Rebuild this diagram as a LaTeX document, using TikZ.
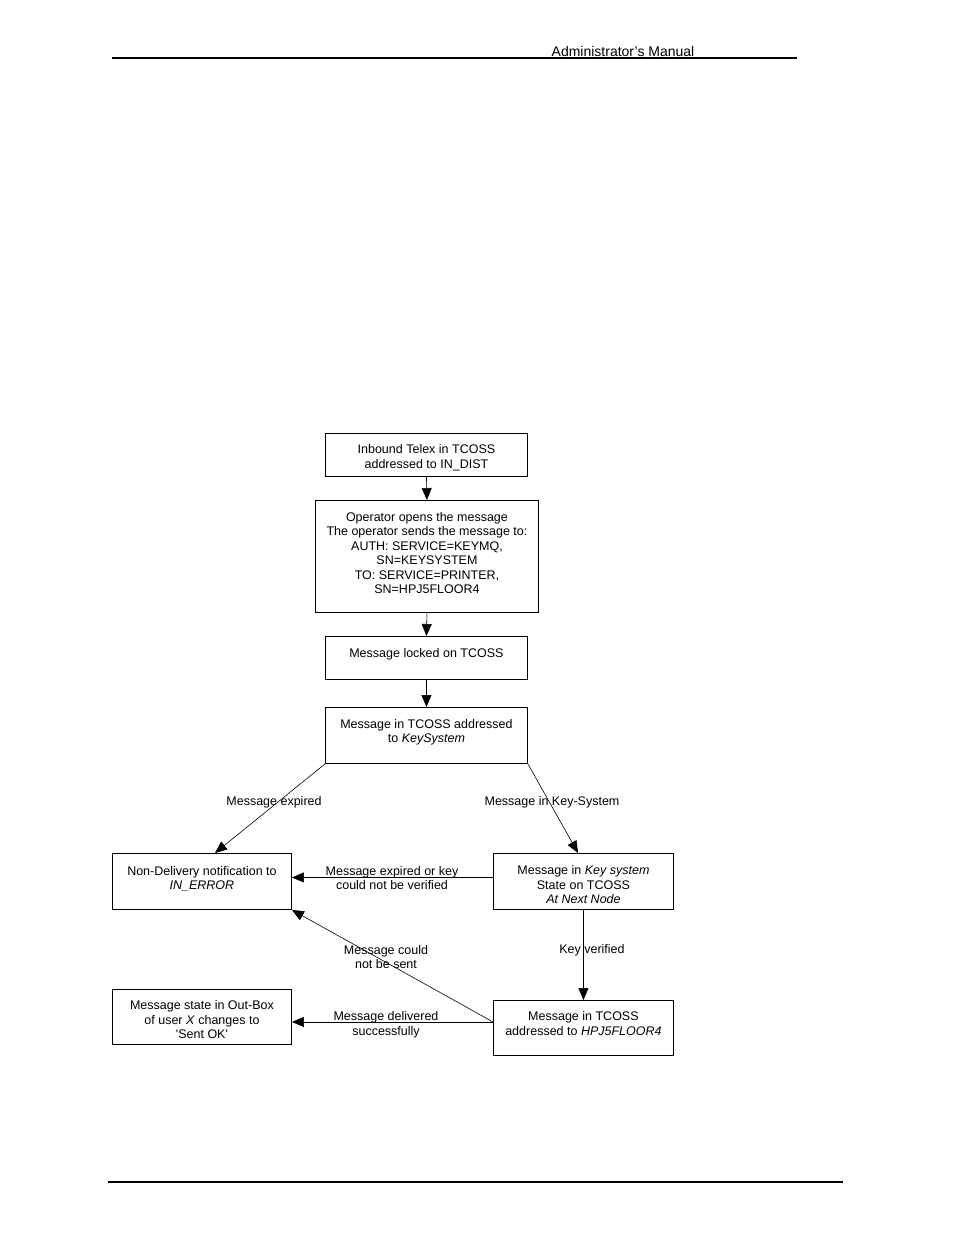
\documentclass[tikz,border=0pt]{standalone}
\usepackage{fontspec}
\setmainfont{Liberation Sans}[Ligatures=TeXOff]
\usetikzlibrary{arrows.meta}
\newcommand{\topgap}[1]{\rule{0pt}{#1}}
\begin{document}
\begin{tikzpicture}[x=1pt,y=-1pt,
  box/.style={draw, line width=0.9pt, inner sep=0pt, align=center,
    font=\fontsize{12.5}{14.5}\selectfont, anchor=north west},
  lab/.style={font=\fontsize{12.5}{14.5}\selectfont, align=center, inner sep=0pt},
  arr/.style={-{Triangle[length=12pt,width=10pt]}, line width=0.6pt},
  rule/.style={line width=1.2pt}]
\useasboundingbox (0,0) rectangle (954,1235);
% header / footer
\node[font=\fontsize{14}{16}\selectfont, inner sep=0pt] (hdr) at (623,51) {Administrator’s Manual};
\coordinate (hl) at (112,58); \coordinate (hr) at (797,58);
\draw[rule] (hl) -- (hr);
\coordinate (fl) at (108,1182); \coordinate (fr) at (843,1182);
\draw[rule] (fl) -- (fr);
% boxes
\node[box, minimum width=202pt, minimum height=43pt] (b1) at (325,433)
  {\topgap{15pt}Inbound Telex in TCOSS\\addressed to IN\_DIST};
\node[box, minimum width=223pt, minimum height=112pt, text depth=7pt] (b2) at (315,500)
  {Operator opens the message\\The operator sends the message to:\\AUTH: SERVICE=KEYMQ,\\SN=KEYSYSTEM\\TO: SERVICE=PRINTER,\\SN=HPJ5FLOOR4};
\node[box, minimum width=202pt, minimum height=43pt, text depth=10pt] (b3) at (325,636)
  {Message locked on TCOSS};
\node[box, minimum width=202pt, minimum height=56pt, text depth=9pt] (b4) at (325,707)
  {Message in TCOSS addressed\\to \textit{KeySystem}};
\node[box, minimum width=179pt, minimum height=56pt, text depth=7pt] (b5) at (112,853)
  {Non-Delivery notification to\\\textit{IN\_ERROR}};
\node[box, minimum width=180pt, minimum height=56pt] (b6) at (493,853)
  {\topgap{16pt}Message in \textit{Key system}\\State on TCOSS\\\textit{At Next Node}};
\node[box, minimum width=179pt, minimum height=55pt] (b7) at (112,989)
  {\topgap{15pt}Message state in Out-Box\\of user \textit{X} changes to\\'Sent OK'};
\node[box, minimum width=180pt, minimum height=55pt, text depth=9pt] (b8) at (493,1000)
  {Message in TCOSS\\addressed to \textit{HPJ5FLOOR4}};
% connectors
\draw[arr] (b1.south) -- (b2.north);
\draw[arr] (b2.south) -- (b3.north);
\draw[arr] (b3.south) -- (b4.north);
\draw[arr] (b4.south west) -- ([xshift=103pt]b5.north west);
\draw[arr] (b4.south east) -- ([xshift=85pt]b6.north west);
\draw[arr] ([yshift=4pt]b6.west) -- ([yshift=4pt]b5.east);
\draw[arr] (b6.south) -- (b8.north);
\coordinate (s8) at ([yshift=6pt]b8.west);
\draw[arr] (s8) -- (b5.south east);
\draw[arr] (s8) -- (s8 -| b7.east);
% labels
\node[lab] (l1) at (274,802) {Message expired};
\node[lab] (l2) at (552,802) {Message in Key-System};
\node[lab] (l3) at (392,878) {Message expired or key\\could not be verified};
\node[lab] (l4) at (592,950) {Key verified};
\node[lab] (l5) at (386,957) {Message could\\not be sent};
\node[lab] (l6) at (386,1025) {Message delivered\\successfully};
\end{tikzpicture}
\end{document}
